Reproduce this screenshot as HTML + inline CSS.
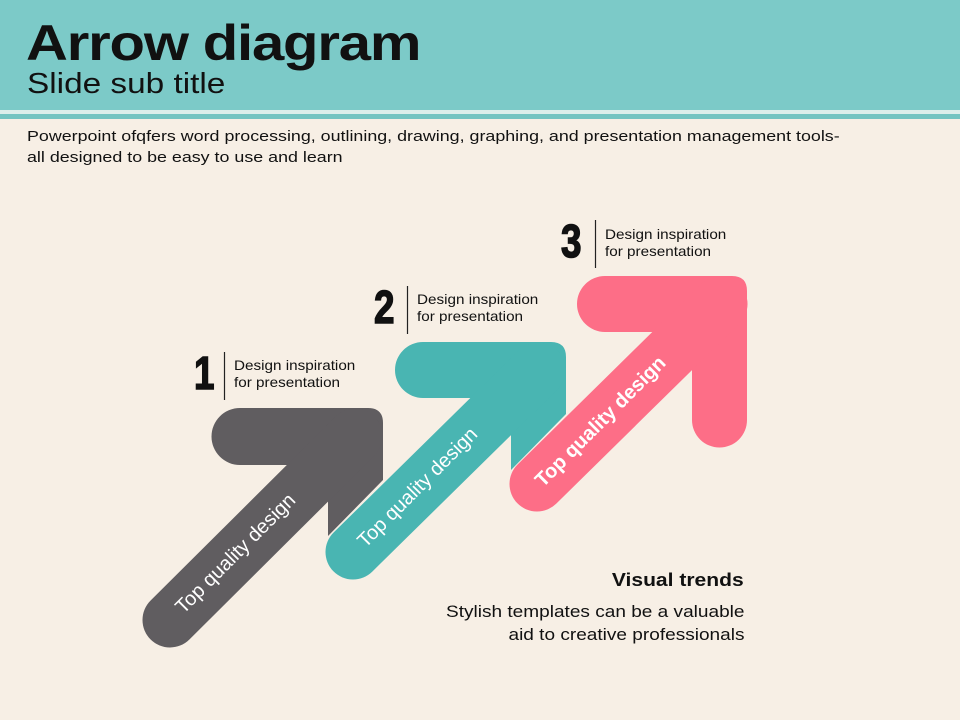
<!DOCTYPE html>
<html><head><meta charset="utf-8"><style>
body{margin:0;width:960px;height:720px;overflow:hidden;background:#f7efe5;font-family:"Liberation Sans",sans-serif;}
.t{position:absolute;white-space:nowrap;color:#111;}
</style></head><body>
<div style="position:absolute;left:0;top:0;width:960px;height:110px;background:#7ccac8"></div>
<div style="position:absolute;left:0;top:110px;width:960px;height:4px;background:#dceeea"></div>
<div style="position:absolute;left:0;top:114px;width:960px;height:5px;background:#74c4c1"></div>
<div class="t" style="left:26px;top:14px;font-size:50px;font-weight:bold;letter-spacing:-1px;transform:scaleX(1.16);transform-origin:left top;">Arrow diagram</div>
<div class="t" style="left:27px;top:68px;font-size:29px;transform:scaleX(1.15);transform-origin:left top;">Slide sub title</div>
<div class="t" style="left:27px;top:126px;font-size:15px;line-height:21px;transform:scaleX(1.19);transform-origin:left top;">Powerpoint ofqfers word processing, outlining, drawing, graphing, and presentation management tools-<br>all designed to be easy to use and learn</div>

<svg width="960" height="720" style="position:absolute;left:0;top:0">
<g fill="#605d60">
 <path d="M240,408 H368 Q383,408 383,423 V480 L328,536 V465 H240 A28.5,28.5 0 0 1 240,408 Z"/>
 <line x1="170" y1="620" x2="355" y2="436" stroke="#605d60" stroke-width="55" stroke-linecap="round"/>
</g>
<g fill="#49b5b2">
 <path d="M423,342 H551 Q566,342 566,357 V414 L511,470 V398 H423 A28,28 0 0 1 423,342 Z"/>
 <line x1="353" y1="552" x2="538" y2="370" stroke="#49b5b2" stroke-width="55" stroke-linecap="round"/>
</g>
<g fill="#fd6e87">
 <path d="M605,276 H732 Q747,276 747,291 V420 A27.5,27.5 0 0 1 692,420 V332 H605 A28,28 0 0 1 605,276 Z"/>
 <line x1="537" y1="484" x2="720" y2="304" stroke="#fd6e87" stroke-width="55" stroke-linecap="round"/>
</g>
<g fill="#fff" font-family="Liberation Sans, sans-serif" font-size="20" text-anchor="middle">
 <text transform="translate(240,558) rotate(-45)">Top quality design</text>
 <text transform="translate(422,492) rotate(-45)">Top quality design</text>
 <text transform="translate(605,426) rotate(-45)" font-weight="bold">Top quality design</text>
</g>
<g stroke="#222" stroke-width="1.2">
 <line x1="224.5" y1="352" x2="224.5" y2="400"/>
 <line x1="407.5" y1="286" x2="407.5" y2="334"/>
 <line x1="595.5" y1="220" x2="595.5" y2="268"/>
</g>
</svg>

<div class="t" style="left:194px;top:346px;font-size:46px;font-weight:bold;transform:scaleX(0.8);transform-origin:left top;-webkit-text-stroke:1.5px #111;">1</div>
<div class="t" style="left:234px;top:357px;font-size:14px;line-height:17px;transform:scaleX(1.09);transform-origin:left top;">Design inspiration<br>for presentation</div>
<div class="t" style="left:374px;top:280px;font-size:46px;font-weight:bold;transform:scaleX(0.8);transform-origin:left top;-webkit-text-stroke:1.5px #111;">2</div>
<div class="t" style="left:417px;top:291px;font-size:14px;line-height:17px;transform:scaleX(1.09);transform-origin:left top;">Design inspiration<br>for presentation</div>
<div class="t" style="left:561px;top:214px;font-size:46px;font-weight:bold;transform:scaleX(0.8);transform-origin:left top;-webkit-text-stroke:1.5px #111;">3</div>
<div class="t" style="left:605px;top:226px;font-size:14px;line-height:17px;transform:scaleX(1.09);transform-origin:left top;">Design inspiration<br>for presentation</div>

<div class="t" style="right:216px;top:570px;font-size:18px;font-weight:bold;text-align:right;transform:scaleX(1.17);transform-origin:right top;">Visual trends</div>
<div class="t" style="right:216px;top:600px;font-size:17px;line-height:23px;text-align:right;transform:scaleX(1.12);transform-origin:right top;">Stylish templates can be a valuable<br>aid to creative professionals</div>
</body></html>
